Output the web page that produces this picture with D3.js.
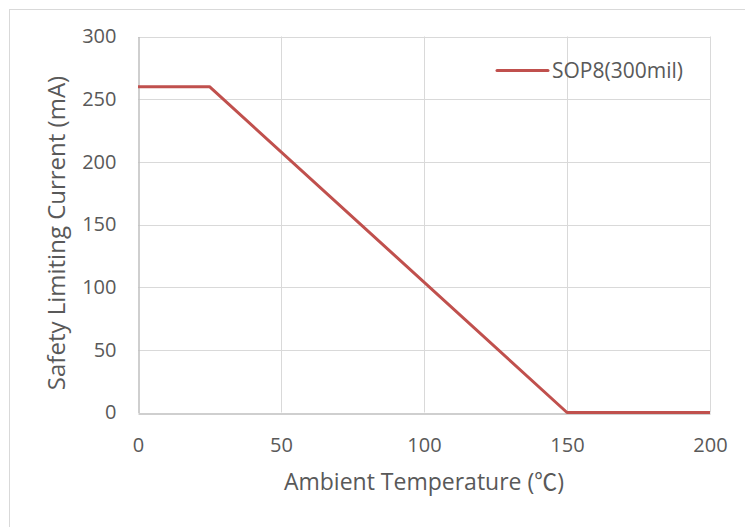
<!DOCTYPE html>
<html>
<head>
<meta charset="utf-8">
<script src="https://cdn.jsdelivr.net/npm/d3@7"></script>
<style>
  body { margin: 0; background: #fff; }
  svg { display: block; font-family: "Open Sans", "Noto Sans", sans-serif; }
</style>
</head>
<body>
<div id="chart"></div>
<script>
// data
const temperatures = [0, 25, 150, 200];
const currents = [260, 260, 0, 0];
const xTicks = [0, 50, 100, 150, 200];
const yTicks = [0, 50, 100, 150, 200, 250, 300];
const seriesName = "SOP8(300mil)";
const xTitle = "Ambient Temperature (";
const xTitleUnit = "\u2103";
const yTitle = "Safety Limiting Current (mA)";

const width = 745, height = 527;
const margin = { top: 36.5, right: 35, bottom: 114.5, left: 138 };
const lineColor = "#c0504d";
const textColor = "#595959";

const svg = d3.select("#chart").append("svg")
  .attr("width", width)
  .attr("height", height);

// outer chart frame
svg.append("rect")
  .attr("x", 9.5).attr("y", 9.5)
  .attr("width", width).attr("height", height)
  .attr("fill", "#fff")
  .attr("stroke", "#d9d9d9");

const x = d3.scaleLinear()
  .domain([0, 200])
  .range([margin.left, width - margin.right]);
const y = d3.scaleLinear()
  .domain([0, 300])
  .range([height - margin.bottom, margin.top]);

// gridlines
svg.append("g")
  .selectAll("line")
  .data(yTicks.slice(1))
  .join("line")
    .attr("x1", x(0)).attr("x2", x(200))
    .attr("y1", d => Math.round(y(d)) + 0.5).attr("y2", d => Math.round(y(d)) + 0.5)
    .attr("stroke", "#d9d9d9");
svg.append("g")
  .selectAll("line")
  .data(xTicks.slice(1))
  .join("line")
    .attr("x1", d => Math.round(x(d)) + 0.5).attr("x2", d => Math.round(x(d)) + 0.5)
    .attr("y1", y(0)).attr("y2", y(300))
    .attr("stroke", "#d9d9d9");

svg.append("g")
  .attr("transform", `translate(0,${Math.round(y(0)) + 0.5})`)
  .call(d3.axisBottom(x).tickValues(xTicks).tickSize(0).tickPadding(24))
  .call(g => g.select(".domain").attr("stroke", "#bfbfbf").attr("stroke-width", 1.5))
  .call(g => g.selectAll("text")
    .attr("fill", textColor)
    .style("font-size", "20px")
    .style("font-family", "\"Open Sans\", sans-serif"));

svg.append("g")
  .attr("transform", `translate(${Math.round(x(0)) + 0.5},0)`)
  .call(d3.axisLeft(y).tickValues(yTicks).tickSize(0).tickPadding(22))
  .call(g => g.select(".domain").attr("stroke", "#bfbfbf").attr("stroke-width", 1.5))
  .call(g => g.selectAll("text")
    .attr("fill", textColor)
    .style("font-size", "20px")
    .style("font-family", "\"Open Sans\", sans-serif"));

// series line
const line = d3.line()
  .x((d, i) => x(temperatures[i]))
  .y(d => y(d));
svg.append("path")
  .datum(currents)
  .attr("fill", "none")
  .attr("stroke", lineColor)
  .attr("stroke-width", 3)
  .attr("stroke-linejoin", "round")
  .attr("d", line);

// legend
const legend = svg.append("g").attr("transform", "translate(497,70.5)");
legend.append("line")
  .attr("x1", 0).attr("x2", 51)
  .attr("stroke", lineColor)
  .attr("stroke-width", 3)
  .attr("stroke-linecap", "round");
legend.append("text")
  .attr("x", 55).attr("y", 7.5)
  .attr("fill", textColor)
  .style("font-size", "21px")
  .text(seriesName);

// axis titles
const xt = svg.append("text")
  .attr("x", (x(0) + x(200)) / 2)
  .attr("y", 490)
  .attr("text-anchor", "middle")
  .attr("fill", textColor)
  .style("font-size", "23px");
xt.append("tspan").text(xTitle);
xt.append("tspan").style("font-family", "\"Noto Sans CJK SC\", sans-serif").text(xTitleUnit);
xt.append("tspan").text(")");

svg.append("text")
  .attr("transform", `translate(65,233) rotate(-90)`)
  .attr("text-anchor", "middle")
  .attr("fill", textColor)
  .style("font-size", "24px")
  .text(yTitle);
</script>
</body>
</html>
